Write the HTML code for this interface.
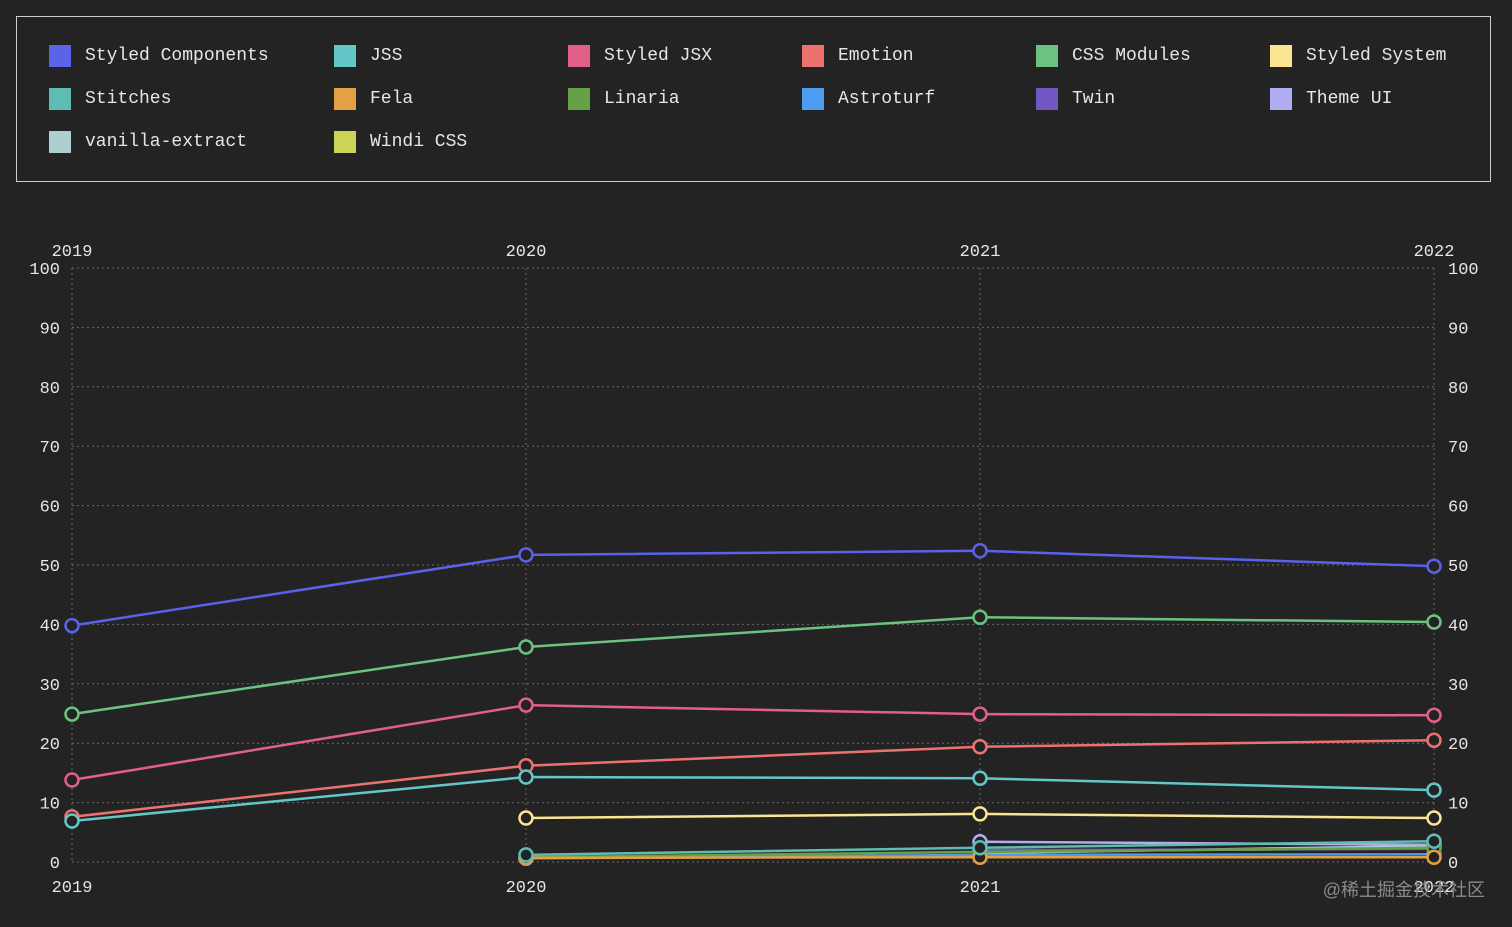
<!DOCTYPE html>
<html><head><meta charset="utf-8"><style>
body{margin:0;background:#242324;width:1512px;height:927px;overflow:hidden;font-family:"Liberation Mono",monospace;}
#legend{position:absolute;left:16px;top:16px;width:1473px;height:164px;border:1px solid #cfcfcf;}
.li{position:absolute;color:#e6e6e6;font-size:18px;line-height:22px;}
.li span{display:inline-block;width:22px;height:22px;vertical-align:top;margin-right:14px;}
svg{position:absolute;left:0;top:0;}
</style></head><body>
<div id="legend"></div>
<svg id="chart" width="1512" height="927"></svg>
<script>
const years=["2019","2020","2021","2022"];
const yTicks=[0,10,20,30,40,50,60,70,80,90,100];
const seriesNames=["Styled Components","JSS","Styled JSX","Emotion","CSS Modules","Styled System","Stitches","Fela","Linaria","Astroturf","Twin","Theme UI","vanilla-extract","Windi CSS"];
const seriesColors=["#5a62e8","#63c7c8","#e06088","#ec7270","#6cc27f","#fbe593","#5fbcb2","#e3a145","#67a145","#4c9cf0","#7157c4","#b0aef0","#aecfcf","#cdd455"];
const sStyledComponents=[39.8,51.7,52.4,49.8];
const sJSS=[6.9,14.3,14.1,12.1];
const sStyledJSX=[13.8,26.4,24.9,24.7];
const sEmotion=[7.6,16.2,19.4,20.5];
const sCSSModules=[24.9,36.2,41.2,40.4];
const sStyledSystem=[null,7.4,8.1,7.4];
const sStitches=[null,1.2,2.4,3.5];
const sFela=[null,0.7,0.8,0.8];
const sLinaria=[null,0.8,1.7,2.4];
const sAstroturf=[null,0.6,1.2,1.3];
const sTwin=[null,null,2.0,2.2];
const sThemeUI=[null,null,3.4,2.9];
const sVanilla=[null,null,1.5,2.7];
const sWindi=[null,null,1.8,2.3];
const seriesValues=[sStyledComponents,sJSS,sStyledJSX,sEmotion,sCSSModules,sStyledSystem,sStitches,sFela,sLinaria,sAstroturf,sTwin,sThemeUI,sVanilla,sWindi];

const NS="http://www.w3.org/2000/svg";
const X0=72,X1=1434,Y0=862,Y1=268;
function xs(i){return X0+(X1-X0)*i/(years.length-1);}
function ys(v){return Y0-(Y0-Y1)*v/100;}
const svg=document.getElementById('chart');
function mk(t,a,txt){const e=document.createElementNS(NS,t);for(const k in a)e.setAttribute(k,a[k]);if(txt!==undefined)e.textContent=txt;svg.appendChild(e);return e;}

const lg=document.getElementById('legend');
const colX=[32,317,551,785,1019,1253],rowY=28;
seriesNames.forEach((n,i)=>{
  const d=document.createElement('div');d.className='li';
  d.style.left=colX[i%6]+'px';d.style.top=(rowY+Math.floor(i/6)*43)+'px';
  d.innerHTML='<span style="background:'+seriesColors[i]+'"></span>'+n;
  
  
  lg.appendChild(d);
});

const F={fill:'#e6e6e6','font-size':17,'font-family':'Liberation Mono, monospace'};
yTicks.forEach(v=>{
  const l=mk('line',{x1:X0,x2:X1,y1:ys(v),y2:ys(v),stroke:'#6a6a6a','stroke-dasharray':'2,3','stroke-width':1});
  
  
  const t1=mk('text',Object.assign({x:60,y:ys(v)+6,'text-anchor':'end'},F),v);
  
  
  const t2=mk('text',Object.assign({x:1448,y:ys(v)+6},F),v);
  
  
});
years.forEach((y,i)=>{
  const l=mk('line',{x1:xs(i),x2:xs(i),y1:Y1,y2:Y0,stroke:'#6a6a6a','stroke-dasharray':'2,3','stroke-width':1});
  
  
  const t1=mk('text',Object.assign({x:xs(i),y:256,'text-anchor':'middle'},F),y);
  
  
  const t2=mk('text',Object.assign({x:xs(i),y:892,'text-anchor':'middle'},F),y);
  
  
});

for(let s=seriesValues.length-1;s>=0;s--){
  const vals=seriesValues[s];const c=seriesColors[s];
  const pts=[];vals.forEach((v,i)=>{if(v!==null)pts.push([xs(i),ys(v)]);});
  const p=mk('polyline',{points:pts.map(p=>p.join(',')).join(' '),fill:'none',stroke:c,'stroke-width':2.5});
  
  
  pts.forEach(q=>{
    const ci=mk('circle',{cx:q[0],cy:q[1],r:6.5,fill:'#242324',stroke:c,'stroke-width':2.5});
    
    
  });
}
const wm=mk('text',{x:1485,y:896,'text-anchor':'end',fill:'#8a8a8a','font-size':18,'font-family':'Liberation Sans, Noto Sans CJK SC, sans-serif'},'@稀土掘金技术社区');


</script>
</body></html>
